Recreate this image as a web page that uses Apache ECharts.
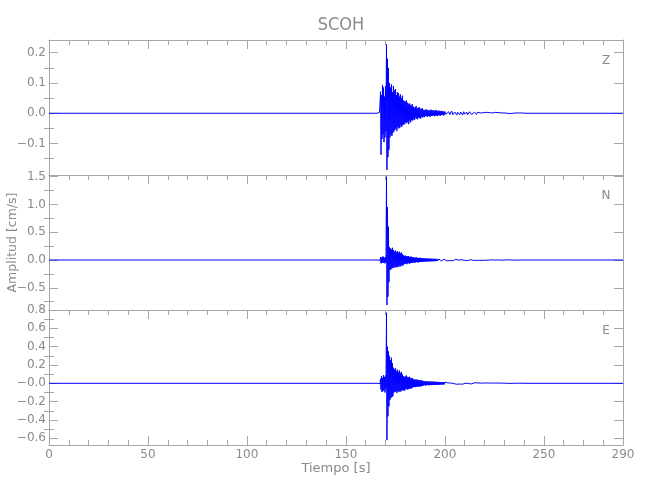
<!DOCTYPE html>
<html><head><meta charset="utf-8">
<script src="https://cdn.jsdelivr.net/npm/echarts@6/dist/echarts.min.js"></script>
<style>html,body{margin:0;padding:0;background:#fff}#c{width:650px;height:500px}</style>
</head><body><div id="c"></div>
<script>
// ---------- text ----------
const TITLE = 'SCOH';
const X_NAME = 'Tiempo [s]';
const Y_NAME = 'Amplitud [cm/s]';
const COMPONENTS = ['Z', 'N', 'E'];

// ---------- axes ----------
const X_MIN = 0, X_MAX = 290, X_STEP = 50;
const Y_RANGES = [[-0.204, 0.242], [-0.9, 1.53], [-0.673, 0.8]];
const Y_LABEL_VALUES = [
  [0.2, 0.1, 0.0, -0.1],
  [1.5, 1.0, 0.5, 0.0, -0.5],
  [0.8, 0.6, 0.4, 0.2, 0.0, -0.2, -0.4, -0.6]
];
const Y_LABEL_TEXT = [
  ['0.2', '0.1', '0.0', '\u22120.1'],
  ['1.5', '1.0', '0.5', '0.0', '\u22120.5'],
  ['0.8', '0.6', '0.4', '0.2', '\u22120.0', '\u22120.2', '\u22120.4', '\u22120.6']
];
const Y_MINOR_VALUES = [
  [0.15, 0.05, -0.05, -0.15],
  [1.25, 0.75, 0.25, -0.25, -0.75],
  [0.7, 0.5, 0.3, 0.1, -0.1, -0.3, -0.5]
];

// ---------- data (amplitudes in 0.001 cm/s) ----------
// quiet baseline before the event, dense window from 166 s (0.25 s step), coda from 200 s (0.5 s step)
const DENSE_T0 = 166, DENSE_DT = 0.25;
const CODA_T0 = 200, CODA_DT = 0.5;

const Z_DENSE = [
  2,-3,1,-2,3,-1,
  71,-137,60,-85,93,-70,85,-95,55,-80,90,-60,
  228,-187,180,-145,150,-120,
  100,-80,85,-70,95,-75,70,-65,
  90,-60,75,-55,80,-50,60,-58,70,-45,67,-50,55,-48,62,-40,50,-45,58,-38,
  43,-38,40,-35,38,-30,42,-33,35,-28,30,-36,33,-25,28,-30,25,-22,30,-24,
  22,-20,18,-22,20,-15,24,-18,16,-20,18,-14,20,-16,15,-18,14,-12,17,-14,
  12,-11,10,-13,11,-9,13,-10,9,-12,11,-8,10,-11,8,-10,12,-9,9,-8,
  10,-7,8,-10,9,-7,11,-8,7,-9,8,-6,9,-7,6,-8,7,-6,8,-5,6,-7,5,-6
];
const Z_CODA = [
  6,-3,-7,2,5,-4,1,7,-5,-2,4,6,-6,3,-1,-5,4,2,-6,5,
  -3,1,4,-5,-2,5,3,-4,1,-3,4,-2,-4,3,2,-3,1,3,-4,2,
  -1,-3,3,1,-2,2,-3,2,1,-2,-1,3,-2,1,2,-2,-1,1,2,-1,
  1,-2,1,0,-1,2,-1,1,-1,0,1,-1,1,0,-1,1,0,-1,1,0,0
];

const N_DENSE = [
  3,-4,5,-3,4,-5,
  50,-60,45,-55,62,-48,58,-52,40,-60,55,-45,
  1500,-810,950,-660,600,-400,
  230,-180,210,-170,190,-150,220,-140,
  180,-140,150,-130,170,-120,140,-135,160,-110,130,-125,150,-100,120,-115,135,-95,110,-100,
  85,-80,75,-70,80,-65,70,-75,65,-60,72,-58,60,-65,55,-50,62,-55,50,-48,
  50,-45,45,-50,40,-42,48,-38,42,-40,36,-44,40,-35,38,-36,34,-30,36,-32,
  30,-28,32,-26,28,-30,25,-27,29,-24,26,-25,23,-27,25,-22,24,-23,21,-24,
  22,-20,23,-21,19,-22,20,-18,21,-19,17,-20,18,-16,19,-17,15,-18,16,-15,17,-14,15,-16
];
const N_CODA = [
  14,-9,-15,8,12,-11,5,13,-12,-4,10,11,-13,6,-3,-10,9,4,-11,10,
  -7,3,9,-10,-4,9,6,-8,2,-7,8,-4,-7,6,3,-6,2,6,-7,4,
  -2,-5,5,2,-4,4,-5,3,2,-4,-2,4,-3,2,3,-3,-2,2,3,-2,
  2,-3,2,0,-2,2,-1,2,-1,0,1,-2,1,0,-1,1,0,-1,1,0,0
];

const E_DENSE = [
  3,-2,4,-3,2,-4,
  50,-70,80,-95,60,-85,90,-75,70,-100,85,-60,
  770,-620,400,-360,350,-250,
  300,-180,250,-160,280,-150,220,-140,
  170,-100,150,-95,165,-90,130,-105,150,-80,120,-95,140,-85,110,-90,125,-75,100,-80,
  80,-75,70,-80,75,-65,85,-60,70,-70,65,-60,72,-55,60,-62,55,-50,58,-48,
  45,-40,42,-38,40,-42,38,-35,42,-36,35,-38,36,-32,34,-35,30,-30,32,-28,
  25,-22,24,-20,22,-24,20,-21,23,-19,21,-20,19,-22,20,-18,18,-19,20,-17,
  17,-18,19,-16,16,-17,18,-15,15,-16,16,-14,14,-15,15,-13,13,-14,14,-12,12,-13,13,-11
];
const E_CODA = [
  11,-6,-10,5,9,-8,3,10,-9,-3,8,9,-10,5,-2,-8,7,3,-9,8,
  -6,2,7,-8,-3,7,5,-6,2,-5,6,-3,-6,5,3,-5,2,5,-5,3,
  -2,-4,4,2,-3,3,-4,3,2,-3,-2,3,-2,2,3,-2,-1,2,2,-1,
  2,-2,1,0,-1,2,-1,1,-1,0,1,-1,1,0,-1,1,0,-1,1,0,0
];

const TRACES = [[Z_DENSE, Z_CODA], [N_DENSE, N_CODA], [E_DENSE, E_CODA]];
const UNIT = 0.001;

function buildTrace(dense, coda) {
  const d = [[X_MIN, 0], [DENSE_T0 - DENSE_DT, 0]];
  dense.forEach((v, i) => d.push([DENSE_T0 + i * DENSE_DT, v * UNIT]));
  coda.forEach((v, i) => d.push([CODA_T0 + i * CODA_DT, v * UNIT]));
  d.push([CODA_T0 + coda.length * CODA_DT, 0], [X_MAX, 0]);
  return d;
}

// ---------- style ----------
const FONT = "'DejaVu Sans',sans-serif";
const AXIS_COLOR = '#a6a6a6';
const TEXT_COLOR = '#8a8a8a';
const LINE_COLOR = '#0000ff';
const W = 650;
const LEFT = 49, RIGHT = 27, TOP = 40, PANEL_H = 135;

const grids = [], xAxes = [], yAxes = [], series = [], graphics = [];
for (let p = 0; p < 3; p++) {
  grids.push({ left: LEFT, right: RIGHT, top: TOP + p * PANEL_H, height: PANEL_H,
    containLabel: false, outerBoundsMode: 'none' });
  const last = p === 2;
  // bottom x axis
  xAxes.push({
    type: 'value', gridIndex: p, position: 'bottom', min: X_MIN, max: X_MAX, interval: X_STEP,
    axisLine: { show: true, onZero: false, lineStyle: { color: AXIS_COLOR, width: 1 } },
    axisTick: { show: last, inside: true, length: 9, lineStyle: { color: AXIS_COLOR } },
    minorTick: { show: last, splitNumber: 5, length: 5, lineStyle: { color: AXIS_COLOR } },
    axisLabel: { show: last, color: TEXT_COLOR, fontFamily: FONT, fontSize: 12, margin: 4 },
    splitLine: { show: false },
    name: last ? X_NAME : '', nameLocation: 'middle', nameGap: 16,
    nameTextStyle: { color: TEXT_COLOR, fontFamily: FONT, fontSize: 13 }
  });
  // top x axis
  xAxes.push({
    type: 'value', gridIndex: p, position: 'top', min: X_MIN, max: X_MAX, interval: X_STEP,
    axisLine: { show: true, onZero: false, lineStyle: { color: AXIS_COLOR, width: 1 } },
    axisTick: { show: true, inside: true, length: 9, lineStyle: { color: AXIS_COLOR } },
    minorTick: { show: true, splitNumber: 5, length: 5, lineStyle: { color: AXIS_COLOR } },
    axisLabel: { show: false }, splitLine: { show: false }
  });
  const [ymin, ymax] = Y_RANGES[p];
  const labels = Y_LABEL_VALUES[p], texts = Y_LABEL_TEXT[p];
  const fmt = v => {
    let best = 0;
    labels.forEach((lv, i) => { if (Math.abs(lv - v) < Math.abs(labels[best] - v)) best = i; });
    return texts[best];
  };
  for (const side of ['left', 'right']) {
    // major ticks (+ labels on the left)
    yAxes.push({
      type: 'value', gridIndex: p, position: side, min: ymin, max: ymax,
      axisLine: { show: true, onZero: false, lineStyle: { color: AXIS_COLOR, width: 1 } },
      axisTick: { show: true, inside: true, length: 9, customValues: labels, lineStyle: { color: AXIS_COLOR } },
      axisLabel: { show: side === 'left', customValues: labels, formatter: fmt, color: TEXT_COLOR, fontFamily: FONT, fontSize: 12, margin: 3 },
      splitLine: { show: false }
    });
    // minor ticks
    yAxes.push({
      type: 'value', gridIndex: p, position: side, min: ymin, max: ymax,
      axisLine: { show: false },
      axisTick: { show: true, inside: true, length: 5, customValues: Y_MINOR_VALUES[p], lineStyle: { color: AXIS_COLOR } },
      axisLabel: { show: false }, splitLine: { show: false }
    });
  }
  series.push({
    type: 'line', xAxisIndex: p * 2, yAxisIndex: p * 4, data: buildTrace(TRACES[p][0], TRACES[p][1]),
    showSymbol: false, symbol: 'none', lineStyle: { color: LINE_COLOR, width: 1 }, animation: false, silent: true
  });
  graphics.push({
    type: 'text', x: W - RIGHT - 17, y: TOP + p * PANEL_H + 21,
    style: { text: COMPONENTS[p], fill: TEXT_COLOR, font: "12px " + FONT, textAlign: 'center', textVerticalAlign: 'middle' }
  });
}
// y-axis title, centred on the stacked panels
graphics.push({
  type: 'text', x: 13, y: TOP + 1.5 * PANEL_H, rotation: Math.PI / 2,
  style: { text: Y_NAME, fill: TEXT_COLOR, font: "12.5px " + FONT, textAlign: 'center', textVerticalAlign: 'middle' }
});

const chart = echarts.init(document.getElementById('c'), null, { renderer: 'canvas' });
chart.setOption({
  backgroundColor: '#ffffff',
  animation: false,
  title: { text: TITLE, left: 336, top: 11, textAlign: 'center',
    textStyle: { color: TEXT_COLOR, fontFamily: FONT, fontSize: 18, fontWeight: 'normal', fontStyle: 'condensed' } },
  grid: grids, xAxis: xAxes, yAxis: yAxes, series: series, graphic: graphics
});
</script></body></html>
